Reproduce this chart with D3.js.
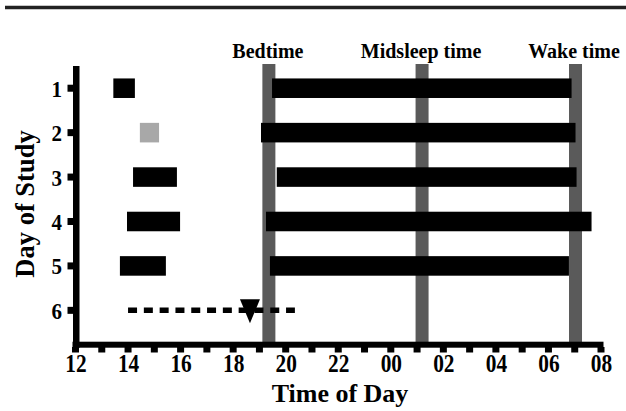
<!DOCTYPE html>
<html>
<head>
<meta charset="utf-8">
<script src="https://cdn.jsdelivr.net/npm/d3@7"></script>
<style>
  html, body { margin: 0; padding: 0; background: #fff; }
  svg { display: block; }
  text { font-family: "Liberation Serif", "Times New Roman", serif; font-weight: bold; fill: #000; }
</style>
</head>
<body>
<svg id="chart" width="626" height="411"></svg>
<script>
// ---- data ----
const days = [1, 2, 3, 4, 5];
const napStart = [13.44, 14.45, 14.19, 13.96, 13.69];
const napEnd   = [14.26, 15.18, 15.86, 15.98, 15.44];
const napKind  = ["sleep", "partial", "sleep", "sleep", "sleep"];
const sleepStart = [19.48, 19.06, 19.66, 19.25, 19.40];
const sleepEnd   = [30.88, 31.03, 31.07, 31.64, 30.78];
const markerNames = ["Bedtime", "Midsleep time", "Wake time"];
const markerTimes = [19.36, 25.19, 31.03];
const testDay = 6;
const testStart = 14.0;
const testEnd = 20.35;
const testArrow = 18.64;
const yTickValues = [1, 2, 3, 4, 5, 6];
const xTickValues = d3.range(12, 33, 1);
const xLabelValues = [12, 14, 16, 18, 20, 22, 24, 26, 28, 30, 32];
const xLabels = ["12", "14", "16", "18", "20", "22", "00", "02", "04", "06", "08"];

// ---- layout ----
const svg = d3.select("#chart");
const x = d3.scaleLinear().domain([12, 32]).range([75.5, 601]);
const y = d3.scaleLinear().domain([0.5, 6.78]).range([66, 345]);
const barHalf = 0.22;

// top rule
svg.append("line").attr("x1", 5).attr("x2", 626).attr("y1", 7.5).attr("y2", 7.5)
  .attr("stroke", "#222").attr("stroke-width", 3.5);

// marker vertical bands
svg.selectAll("rect.marker").data(markerTimes).join("rect")
  .attr("class", "marker")
  .attr("x", d => x(d) - 6.5).attr("width", 13)
  .attr("y", 64).attr("height", 345 - 64)
  .attr("fill", "#5a5a5a");

svg.selectAll("text.mlabel").data(markerNames).join("text")
  .attr("class", "mlabel")
  .attr("x", (d, i) => Math.min(x(markerTimes[i]) - 1, 574))
  .attr("y", 57.5)
  .attr("text-anchor", "middle")
  .attr("font-size", 20)
  .text(d => d);

// naps
svg.selectAll("rect.nap").data(days).join("rect")
  .attr("class", "nap")
  .attr("x", (d, i) => x(napStart[i]))
  .attr("width", (d, i) => x(napEnd[i]) - x(napStart[i]))
  .attr("y", d => y(d - barHalf))
  .attr("height", d => y(d + barHalf) - y(d - barHalf))
  .attr("fill", (d, i) => napKind[i] === "partial" ? "#a8a8a8" : "#000");

// night sleep
svg.selectAll("rect.sleep").data(days).join("rect")
  .attr("class", "sleep")
  .attr("x", (d, i) => x(sleepStart[i]))
  .attr("width", (d, i) => x(sleepEnd[i]) - x(sleepStart[i]))
  .attr("y", d => y(d - barHalf))
  .attr("height", d => y(d + barHalf) - y(d - barHalf))
  .attr("fill", "#000");

// day 6 dotted line + arrow
svg.append("line")
  .attr("x1", x(testStart)).attr("x2", x(testEnd))
  .attr("y1", y(testDay)).attr("y2", y(testDay))
  .attr("stroke", "#000").attr("stroke-width", 5.5)
  .attr("stroke-dasharray", "9,6.8");
const ax = x(testArrow), ay = y(testDay);
svg.append("path")
  .attr("d", `M${ax - 10},${ay - 11} L${ax + 10},${ay - 11} L${ax},${ay + 13} Z`)
  .attr("fill", "#000");

// y axis
const yAxisG = svg.append("g");
yAxisG.append("rect").attr("x", 73).attr("y", 66).attr("width", 6.5).attr("height", 348 - 66).attr("fill", "#000");
yAxisG.selectAll("rect.yt").data(yTickValues).join("rect")
  .attr("class", "yt")
  .attr("x", 67.5).attr("width", 6)
  .attr("y", d => y(d) - 3.5).attr("height", 7)
  .attr("fill", "#000");
yAxisG.selectAll("text.yl").data(yTickValues).join("text")
  .attr("class", "yl")
  .attr("transform", d => `translate(62,${y(d) + 8.5}) scale(1,1.06)`)
  .attr("text-anchor", "end")
  .attr("font-size", 21)
  .text(d => d);

// x axis
const xAxisG = svg.append("g");
xAxisG.append("rect").attr("x", 72.5).attr("y", 341.7).attr("width", 603.5 - 72.5).attr("height", 6).attr("fill", "#000");
xAxisG.selectAll("rect.xt").data(xTickValues).join("rect")
  .attr("class", "xt")
  .attr("x", d => x(d) - 3.5).attr("width", 7)
  .attr("y", 347).attr("height", 5.5)
  .attr("fill", "#000");
xAxisG.selectAll("text.xl").data(xLabelValues).join("text")
  .attr("class", "xl")
  .attr("transform", d => `translate(${x(d) + 0.5},372) scale(0.97,1.1)`)
  .attr("text-anchor", "middle")
  .attr("font-size", 22)
  .text((d, i) => xLabels[i]);

// axis titles
svg.append("text")
  .attr("x", 340).attr("y", 402)
  .attr("text-anchor", "middle")
  .attr("font-size", 26)
  .text("Time of Day");
svg.append("text")
  .attr("transform", "translate(33.5,204) rotate(-90)")
  .attr("text-anchor", "middle")
  .attr("font-size", 26.5)
  .text("Day of Study");
</script>
</body>
</html>
